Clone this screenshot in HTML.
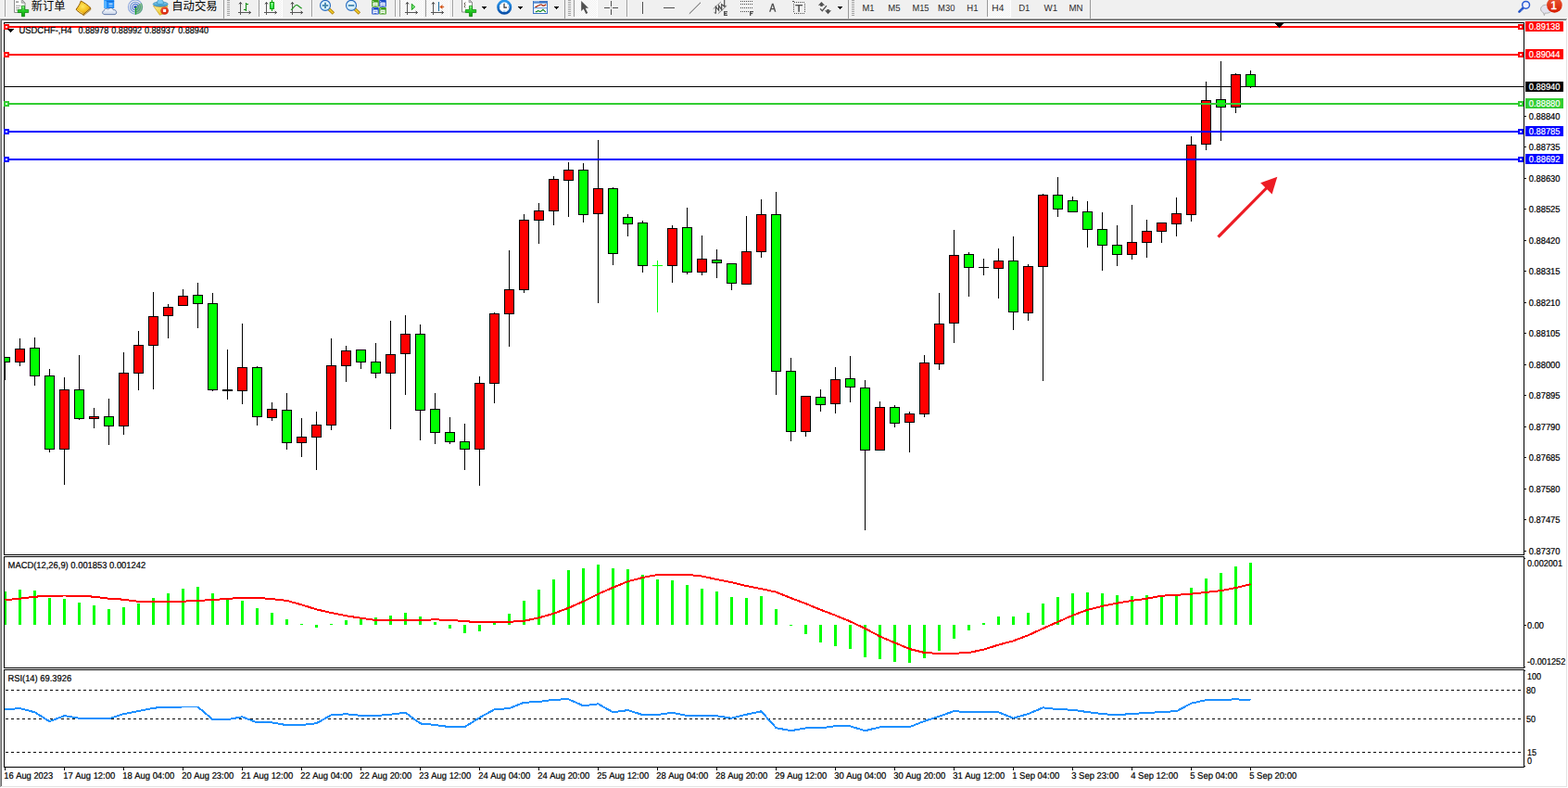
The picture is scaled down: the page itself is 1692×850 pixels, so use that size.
<!DOCTYPE html>
<html><head><meta charset="utf-8"><title>USDCHF H4</title>
<style>
html,body{margin:0;padding:0;}
body{width:1692px;height:850px;overflow:hidden;background:#f0f0f0;position:relative;font-family:"Liberation Sans",sans-serif;}
</style></head><body>
<svg width="1692" height="850" viewBox="0 0 1692 850" style="position:absolute;left:0;top:0"><g shape-rendering="crispEdges"><rect x="0" y="20" width="1692" height="830" fill="#ffffff"/><rect x="0" y="19" width="1692" height="1" fill="#f8f8f8"/><rect x="0" y="20" width="1692" height="1" fill="#a0a0a0"/><rect x="0" y="21" width="1691" height="1" fill="#696969"/><rect x="0" y="20" width="1" height="830" fill="#a0a0a0"/><rect x="1" y="21" width="1" height="828" fill="#696969"/><rect x="1690" y="21" width="1" height="828" fill="#e3e3e3"/><rect x="1691" y="20" width="1" height="830" fill="#ffffff"/><rect x="1" y="848" width="1690" height="1" fill="#e3e3e3"/><rect x="0" y="849" width="1692" height="1" fill="#ffffff"/><rect x="4" y="24" width="1641" height="1" fill="#000"/><rect x="4" y="598" width="1641" height="1" fill="#000"/><rect x="4" y="24" width="1" height="575" fill="#000"/><rect x="1644" y="24" width="1" height="575" fill="#000"/><rect x="4" y="600" width="1641" height="1" fill="#000"/><rect x="4" y="720" width="1641" height="1" fill="#000"/><rect x="4" y="600" width="1" height="121" fill="#000"/><rect x="1644" y="600" width="1" height="121" fill="#000"/><rect x="4" y="722" width="1641" height="1" fill="#000"/><rect x="4" y="827" width="1641" height="1" fill="#000"/><rect x="4" y="722" width="1" height="106" fill="#000"/><rect x="1644" y="722" width="1" height="106" fill="#000"/><rect x="5" y="93" width="1639" height="1" fill="#000"/><rect x="5" y="385" width="1" height="25" fill="#000"/><rect x="5" y="385" width="6" height="6" fill="#000"/><rect x="5" y="386" width="5" height="4" fill="#00ff00"/><rect x="21" y="365" width="1" height="30" fill="#000"/><rect x="16" y="376" width="11" height="15" fill="#000"/><rect x="17" y="377" width="9" height="13" fill="#ff0000"/><rect x="37" y="364" width="1" height="52" fill="#000"/><rect x="32" y="375" width="11" height="31" fill="#000"/><rect x="33" y="376" width="9" height="29" fill="#00ff00"/><rect x="53" y="398" width="1" height="90" fill="#000"/><rect x="48" y="405" width="11" height="80" fill="#000"/><rect x="49" y="406" width="9" height="78" fill="#00ff00"/><rect x="69" y="407" width="1" height="116" fill="#000"/><rect x="64" y="420" width="11" height="65" fill="#000"/><rect x="65" y="421" width="9" height="63" fill="#ff0000"/><rect x="85" y="383" width="1" height="70" fill="#000"/><rect x="80" y="420" width="11" height="32" fill="#000"/><rect x="81" y="421" width="9" height="30" fill="#00ff00"/><rect x="101" y="440" width="1" height="22" fill="#000"/><rect x="96" y="449" width="11" height="3" fill="#000"/><rect x="97" y="450" width="9" height="1" fill="#ff0000"/><rect x="117" y="430" width="1" height="50" fill="#000"/><rect x="112" y="449" width="11" height="11" fill="#000"/><rect x="113" y="450" width="9" height="9" fill="#00ff00"/><rect x="133" y="380" width="1" height="89" fill="#000"/><rect x="128" y="402" width="11" height="58" fill="#000"/><rect x="129" y="403" width="9" height="56" fill="#ff0000"/><rect x="149" y="357" width="1" height="64" fill="#000"/><rect x="144" y="372" width="11" height="31" fill="#000"/><rect x="145" y="373" width="9" height="29" fill="#ff0000"/><rect x="165" y="315" width="1" height="105" fill="#000"/><rect x="160" y="341" width="11" height="32" fill="#000"/><rect x="161" y="342" width="9" height="30" fill="#ff0000"/><rect x="181" y="328" width="1" height="37" fill="#000"/><rect x="176" y="331" width="11" height="10" fill="#000"/><rect x="177" y="332" width="9" height="8" fill="#ff0000"/><rect x="197" y="312" width="1" height="18" fill="#000"/><rect x="192" y="319" width="11" height="11" fill="#000"/><rect x="193" y="320" width="9" height="9" fill="#ff0000"/><rect x="213" y="305" width="1" height="49" fill="#000"/><rect x="208" y="318" width="11" height="10" fill="#000"/><rect x="209" y="319" width="9" height="8" fill="#00ff00"/><rect x="229" y="316" width="1" height="106" fill="#000"/><rect x="224" y="327" width="11" height="94" fill="#000"/><rect x="225" y="328" width="9" height="92" fill="#00ff00"/><rect x="245" y="377" width="1" height="54" fill="#000"/><rect x="240" y="420" width="11" height="2" fill="#000"/><rect x="261" y="349" width="1" height="87" fill="#000"/><rect x="256" y="396" width="11" height="26" fill="#000"/><rect x="257" y="397" width="9" height="24" fill="#ff0000"/><rect x="277" y="395" width="1" height="64" fill="#000"/><rect x="272" y="396" width="11" height="54" fill="#000"/><rect x="273" y="397" width="9" height="52" fill="#00ff00"/><rect x="293" y="434" width="1" height="20" fill="#000"/><rect x="288" y="441" width="11" height="10" fill="#000"/><rect x="289" y="442" width="9" height="8" fill="#ff0000"/><rect x="309" y="424" width="1" height="61" fill="#000"/><rect x="304" y="442" width="11" height="36" fill="#000"/><rect x="305" y="443" width="9" height="34" fill="#00ff00"/><rect x="325" y="451" width="1" height="42" fill="#000"/><rect x="320" y="471" width="11" height="7" fill="#000"/><rect x="321" y="472" width="9" height="5" fill="#ff0000"/><rect x="341" y="444" width="1" height="63" fill="#000"/><rect x="336" y="458" width="11" height="14" fill="#000"/><rect x="337" y="459" width="9" height="12" fill="#ff0000"/><rect x="357" y="365" width="1" height="99" fill="#000"/><rect x="352" y="394" width="11" height="65" fill="#000"/><rect x="353" y="395" width="9" height="63" fill="#ff0000"/><rect x="373" y="373" width="1" height="39" fill="#000"/><rect x="368" y="378" width="11" height="17" fill="#000"/><rect x="369" y="379" width="9" height="15" fill="#ff0000"/><rect x="389" y="377" width="1" height="21" fill="#000"/><rect x="384" y="377" width="11" height="14" fill="#000"/><rect x="385" y="378" width="9" height="12" fill="#00ff00"/><rect x="405" y="370" width="1" height="38" fill="#000"/><rect x="400" y="390" width="11" height="13" fill="#000"/><rect x="401" y="391" width="9" height="11" fill="#00ff00"/><rect x="421" y="346" width="1" height="117" fill="#000"/><rect x="416" y="382" width="11" height="21" fill="#000"/><rect x="417" y="383" width="9" height="19" fill="#ff0000"/><rect x="437" y="340" width="1" height="86" fill="#000"/><rect x="432" y="360" width="11" height="22" fill="#000"/><rect x="433" y="361" width="9" height="20" fill="#ff0000"/><rect x="453" y="350" width="1" height="125" fill="#000"/><rect x="448" y="360" width="11" height="83" fill="#000"/><rect x="449" y="361" width="9" height="81" fill="#00ff00"/><rect x="469" y="424" width="1" height="55" fill="#000"/><rect x="464" y="441" width="11" height="26" fill="#000"/><rect x="465" y="442" width="9" height="24" fill="#00ff00"/><rect x="485" y="450" width="1" height="29" fill="#000"/><rect x="480" y="466" width="11" height="11" fill="#000"/><rect x="481" y="467" width="9" height="9" fill="#00ff00"/><rect x="501" y="457" width="1" height="50" fill="#000"/><rect x="496" y="476" width="11" height="9" fill="#000"/><rect x="497" y="477" width="9" height="7" fill="#00ff00"/><rect x="517" y="406" width="1" height="118" fill="#000"/><rect x="512" y="413" width="11" height="72" fill="#000"/><rect x="513" y="414" width="9" height="70" fill="#ff0000"/><rect x="533" y="337" width="1" height="98" fill="#000"/><rect x="528" y="338" width="11" height="76" fill="#000"/><rect x="529" y="339" width="9" height="74" fill="#ff0000"/><rect x="549" y="270" width="1" height="104" fill="#000"/><rect x="544" y="312" width="11" height="27" fill="#000"/><rect x="545" y="313" width="9" height="25" fill="#ff0000"/><rect x="565" y="231" width="1" height="85" fill="#000"/><rect x="560" y="237" width="11" height="76" fill="#000"/><rect x="561" y="238" width="9" height="74" fill="#ff0000"/><rect x="581" y="219" width="1" height="44" fill="#000"/><rect x="576" y="227" width="11" height="11" fill="#000"/><rect x="577" y="228" width="9" height="9" fill="#ff0000"/><rect x="597" y="190" width="1" height="53" fill="#000"/><rect x="592" y="193" width="11" height="35" fill="#000"/><rect x="593" y="194" width="9" height="33" fill="#ff0000"/><rect x="613" y="175" width="1" height="59" fill="#000"/><rect x="608" y="183" width="11" height="12" fill="#000"/><rect x="609" y="184" width="9" height="10" fill="#ff0000"/><rect x="629" y="176" width="1" height="64" fill="#000"/><rect x="624" y="183" width="11" height="49" fill="#000"/><rect x="625" y="184" width="9" height="47" fill="#00ff00"/><rect x="645" y="151" width="1" height="176" fill="#000"/><rect x="640" y="203" width="11" height="28" fill="#000"/><rect x="641" y="204" width="9" height="26" fill="#ff0000"/><rect x="661" y="202" width="1" height="84" fill="#000"/><rect x="656" y="203" width="11" height="71" fill="#000"/><rect x="657" y="204" width="9" height="69" fill="#00ff00"/><rect x="677" y="231" width="1" height="24" fill="#000"/><rect x="672" y="234" width="11" height="8" fill="#000"/><rect x="673" y="235" width="9" height="6" fill="#00ff00"/><rect x="693" y="238" width="1" height="56" fill="#000"/><rect x="688" y="240" width="11" height="47" fill="#000"/><rect x="689" y="241" width="9" height="45" fill="#00ff00"/><rect x="709" y="281" width="1" height="56" fill="#00ff00"/><rect x="704" y="286" width="11" height="1" fill="#00ff00"/><rect x="725" y="243" width="1" height="62" fill="#000"/><rect x="720" y="246" width="11" height="41" fill="#000"/><rect x="721" y="247" width="9" height="39" fill="#ff0000"/><rect x="741" y="224" width="1" height="72" fill="#000"/><rect x="736" y="245" width="11" height="49" fill="#000"/><rect x="737" y="246" width="9" height="47" fill="#00ff00"/><rect x="757" y="254" width="1" height="43" fill="#000"/><rect x="752" y="279" width="11" height="15" fill="#000"/><rect x="753" y="280" width="9" height="13" fill="#ff0000"/><rect x="773" y="269" width="1" height="31" fill="#000"/><rect x="768" y="280" width="11" height="4" fill="#000"/><rect x="769" y="281" width="9" height="2" fill="#00ff00"/><rect x="789" y="284" width="1" height="29" fill="#000"/><rect x="784" y="284" width="11" height="22" fill="#000"/><rect x="785" y="285" width="9" height="20" fill="#00ff00"/><rect x="805" y="233" width="1" height="74" fill="#000"/><rect x="800" y="271" width="11" height="36" fill="#000"/><rect x="801" y="272" width="9" height="34" fill="#ff0000"/><rect x="821" y="215" width="1" height="63" fill="#000"/><rect x="816" y="231" width="11" height="41" fill="#000"/><rect x="817" y="232" width="9" height="39" fill="#ff0000"/><rect x="837" y="207" width="1" height="219" fill="#000"/><rect x="832" y="231" width="11" height="170" fill="#000"/><rect x="833" y="232" width="9" height="168" fill="#00ff00"/><rect x="853" y="386" width="1" height="90" fill="#000"/><rect x="848" y="400" width="11" height="66" fill="#000"/><rect x="849" y="401" width="9" height="64" fill="#00ff00"/><rect x="869" y="427" width="1" height="44" fill="#000"/><rect x="864" y="427" width="11" height="39" fill="#000"/><rect x="865" y="428" width="9" height="37" fill="#ff0000"/><rect x="885" y="420" width="1" height="24" fill="#000"/><rect x="880" y="428" width="11" height="9" fill="#000"/><rect x="881" y="429" width="9" height="7" fill="#00ff00"/><rect x="901" y="396" width="1" height="50" fill="#000"/><rect x="896" y="409" width="11" height="27" fill="#000"/><rect x="897" y="410" width="9" height="25" fill="#ff0000"/><rect x="917" y="384" width="1" height="50" fill="#000"/><rect x="912" y="408" width="11" height="10" fill="#000"/><rect x="913" y="409" width="9" height="8" fill="#00ff00"/><rect x="933" y="410" width="1" height="162" fill="#000"/><rect x="928" y="418" width="11" height="68" fill="#000"/><rect x="929" y="419" width="9" height="66" fill="#00ff00"/><rect x="949" y="433" width="1" height="53" fill="#000"/><rect x="944" y="439" width="11" height="47" fill="#000"/><rect x="945" y="440" width="9" height="45" fill="#ff0000"/><rect x="965" y="437" width="1" height="24" fill="#000"/><rect x="960" y="439" width="11" height="18" fill="#000"/><rect x="961" y="440" width="9" height="16" fill="#00ff00"/><rect x="981" y="444" width="1" height="44" fill="#000"/><rect x="976" y="446" width="11" height="10" fill="#000"/><rect x="977" y="447" width="9" height="8" fill="#ff0000"/><rect x="997" y="383" width="1" height="67" fill="#000"/><rect x="992" y="391" width="11" height="56" fill="#000"/><rect x="993" y="392" width="9" height="54" fill="#ff0000"/><rect x="1013" y="316" width="1" height="83" fill="#000"/><rect x="1008" y="349" width="11" height="44" fill="#000"/><rect x="1009" y="350" width="9" height="42" fill="#ff0000"/><rect x="1029" y="248" width="1" height="122" fill="#000"/><rect x="1024" y="275" width="11" height="74" fill="#000"/><rect x="1025" y="276" width="9" height="72" fill="#ff0000"/><rect x="1045" y="272" width="1" height="48" fill="#000"/><rect x="1040" y="274" width="11" height="15" fill="#000"/><rect x="1041" y="275" width="9" height="13" fill="#00ff00"/><rect x="1061" y="279" width="1" height="18" fill="#000"/><rect x="1056" y="288" width="11" height="1" fill="#000"/><rect x="1077" y="268" width="1" height="54" fill="#000"/><rect x="1072" y="281" width="11" height="9" fill="#000"/><rect x="1073" y="282" width="9" height="7" fill="#ff0000"/><rect x="1093" y="255" width="1" height="101" fill="#000"/><rect x="1088" y="281" width="11" height="56" fill="#000"/><rect x="1089" y="282" width="9" height="54" fill="#00ff00"/><rect x="1109" y="285" width="1" height="61" fill="#000"/><rect x="1104" y="287" width="11" height="51" fill="#000"/><rect x="1105" y="288" width="9" height="49" fill="#ff0000"/><rect x="1125" y="209" width="1" height="202" fill="#000"/><rect x="1120" y="210" width="11" height="78" fill="#000"/><rect x="1121" y="211" width="9" height="76" fill="#ff0000"/><rect x="1141" y="191" width="1" height="43" fill="#000"/><rect x="1136" y="210" width="11" height="16" fill="#000"/><rect x="1137" y="211" width="9" height="14" fill="#00ff00"/><rect x="1157" y="212" width="1" height="17" fill="#000"/><rect x="1152" y="216" width="11" height="13" fill="#000"/><rect x="1153" y="217" width="9" height="11" fill="#00ff00"/><rect x="1173" y="217" width="1" height="50" fill="#000"/><rect x="1168" y="228" width="11" height="20" fill="#000"/><rect x="1169" y="229" width="9" height="18" fill="#00ff00"/><rect x="1189" y="229" width="1" height="63" fill="#000"/><rect x="1184" y="247" width="11" height="18" fill="#000"/><rect x="1185" y="248" width="9" height="16" fill="#00ff00"/><rect x="1205" y="243" width="1" height="44" fill="#000"/><rect x="1200" y="264" width="11" height="11" fill="#000"/><rect x="1201" y="265" width="9" height="9" fill="#00ff00"/><rect x="1221" y="221" width="1" height="59" fill="#000"/><rect x="1216" y="261" width="11" height="14" fill="#000"/><rect x="1217" y="262" width="9" height="12" fill="#ff0000"/><rect x="1237" y="237" width="1" height="41" fill="#000"/><rect x="1232" y="249" width="11" height="13" fill="#000"/><rect x="1233" y="250" width="9" height="11" fill="#ff0000"/><rect x="1253" y="240" width="1" height="22" fill="#000"/><rect x="1248" y="240" width="11" height="10" fill="#000"/><rect x="1249" y="241" width="9" height="8" fill="#ff0000"/><rect x="1269" y="213" width="1" height="42" fill="#000"/><rect x="1264" y="230" width="11" height="12" fill="#000"/><rect x="1265" y="231" width="9" height="10" fill="#ff0000"/><rect x="1285" y="147" width="1" height="92" fill="#000"/><rect x="1280" y="156" width="11" height="76" fill="#000"/><rect x="1281" y="157" width="9" height="74" fill="#ff0000"/><rect x="1301" y="88" width="1" height="74" fill="#000"/><rect x="1296" y="108" width="11" height="48" fill="#000"/><rect x="1297" y="109" width="9" height="46" fill="#ff0000"/><rect x="1317" y="66" width="1" height="86" fill="#000"/><rect x="1312" y="107" width="11" height="9" fill="#000"/><rect x="1313" y="108" width="9" height="7" fill="#00ff00"/><rect x="1333" y="79" width="1" height="43" fill="#000"/><rect x="1328" y="80" width="11" height="36" fill="#000"/><rect x="1329" y="81" width="9" height="34" fill="#ff0000"/><rect x="1349" y="76" width="1" height="19" fill="#000"/><rect x="1344" y="80" width="11" height="14" fill="#000"/><rect x="1345" y="81" width="9" height="12" fill="#00ff00"/><rect x="5" y="28" width="1639" height="2" fill="#ff0000"/><rect x="4" y="26" width="6" height="6" fill="#ff0000"/><rect x="6" y="28" width="2" height="2" fill="#fff"/><rect x="1638" y="26" width="6" height="6" fill="#ff0000"/><rect x="1640" y="28" width="2" height="2" fill="#fff"/><rect x="1646" y="23" width="41" height="11" fill="#ff0000"/><rect x="5" y="58" width="1639" height="2" fill="#ff0000"/><rect x="4" y="56" width="6" height="6" fill="#ff0000"/><rect x="6" y="58" width="2" height="2" fill="#fff"/><rect x="1638" y="56" width="6" height="6" fill="#ff0000"/><rect x="1640" y="58" width="2" height="2" fill="#fff"/><rect x="1646" y="53" width="41" height="11" fill="#ff0000"/><rect x="5" y="111" width="1639" height="2" fill="#32cd32"/><rect x="4" y="109" width="6" height="6" fill="#32cd32"/><rect x="6" y="111" width="2" height="2" fill="#fff"/><rect x="1638" y="109" width="6" height="6" fill="#32cd32"/><rect x="1640" y="111" width="2" height="2" fill="#fff"/><rect x="1646" y="106" width="41" height="11" fill="#32cd32"/><rect x="5" y="141" width="1639" height="2" fill="#0000ff"/><rect x="4" y="139" width="6" height="6" fill="#0000ff"/><rect x="6" y="141" width="2" height="2" fill="#fff"/><rect x="1638" y="139" width="6" height="6" fill="#0000ff"/><rect x="1640" y="141" width="2" height="2" fill="#fff"/><rect x="1646" y="136" width="41" height="11" fill="#0000ff"/><rect x="5" y="171" width="1639" height="2" fill="#0000ff"/><rect x="4" y="169" width="6" height="6" fill="#0000ff"/><rect x="6" y="171" width="2" height="2" fill="#fff"/><rect x="1638" y="169" width="6" height="6" fill="#0000ff"/><rect x="1640" y="171" width="2" height="2" fill="#fff"/><rect x="1646" y="166" width="41" height="11" fill="#0000ff"/><rect x="1646" y="88" width="41" height="11" fill="#000"/><rect x="1645" y="594" width="2" height="1" fill="#000"/><rect x="1645" y="560" width="2" height="1" fill="#000"/><rect x="1645" y="527" width="2" height="1" fill="#000"/><rect x="1645" y="493" width="2" height="1" fill="#000"/><rect x="1645" y="460" width="2" height="1" fill="#000"/><rect x="1645" y="426" width="2" height="1" fill="#000"/><rect x="1645" y="393" width="2" height="1" fill="#000"/><rect x="1645" y="359" width="2" height="1" fill="#000"/><rect x="1645" y="326" width="2" height="1" fill="#000"/><rect x="1645" y="292" width="2" height="1" fill="#000"/><rect x="1645" y="259" width="2" height="1" fill="#000"/><rect x="1645" y="225" width="2" height="1" fill="#000"/><rect x="1645" y="192" width="2" height="1" fill="#000"/><rect x="1645" y="158" width="2" height="1" fill="#000"/><rect x="1645" y="125" width="2" height="1" fill="#000"/><rect x="5" y="638" width="2" height="36" fill="#00ff00"/><rect x="20" y="636" width="3" height="38" fill="#00ff00"/><rect x="36" y="637" width="3" height="37" fill="#00ff00"/><rect x="52" y="645" width="3" height="29" fill="#00ff00"/><rect x="68" y="646" width="3" height="28" fill="#00ff00"/><rect x="84" y="650" width="3" height="24" fill="#00ff00"/><rect x="100" y="653" width="3" height="21" fill="#00ff00"/><rect x="116" y="657" width="3" height="17" fill="#00ff00"/><rect x="132" y="655" width="3" height="19" fill="#00ff00"/><rect x="148" y="651" width="3" height="23" fill="#00ff00"/><rect x="164" y="645" width="3" height="29" fill="#00ff00"/><rect x="180" y="640" width="3" height="34" fill="#00ff00"/><rect x="196" y="635" width="3" height="39" fill="#00ff00"/><rect x="212" y="633" width="3" height="41" fill="#00ff00"/><rect x="228" y="640" width="3" height="34" fill="#00ff00"/><rect x="244" y="646" width="3" height="28" fill="#00ff00"/><rect x="260" y="648" width="3" height="26" fill="#00ff00"/><rect x="276" y="656" width="3" height="18" fill="#00ff00"/><rect x="292" y="661" width="3" height="13" fill="#00ff00"/><rect x="308" y="668" width="3" height="6" fill="#00ff00"/><rect x="324" y="673" width="3" height="1" fill="#00ff00"/><rect x="340" y="674" width="3" height="3" fill="#00ff00"/><rect x="356" y="673" width="3" height="1" fill="#00ff00"/><rect x="372" y="669" width="3" height="5" fill="#00ff00"/><rect x="388" y="667" width="3" height="7" fill="#00ff00"/><rect x="404" y="666" width="3" height="8" fill="#00ff00"/><rect x="420" y="664" width="3" height="10" fill="#00ff00"/><rect x="436" y="661" width="3" height="13" fill="#00ff00"/><rect x="452" y="665" width="3" height="9" fill="#00ff00"/><rect x="468" y="671" width="3" height="3" fill="#00ff00"/><rect x="484" y="674" width="3" height="4" fill="#00ff00"/><rect x="500" y="674" width="3" height="9" fill="#00ff00"/><rect x="516" y="674" width="3" height="7" fill="#00ff00"/><rect x="532" y="671" width="3" height="3" fill="#00ff00"/><rect x="548" y="662" width="3" height="12" fill="#00ff00"/><rect x="564" y="648" width="3" height="26" fill="#00ff00"/><rect x="580" y="636" width="3" height="38" fill="#00ff00"/><rect x="596" y="625" width="3" height="49" fill="#00ff00"/><rect x="612" y="615" width="3" height="59" fill="#00ff00"/><rect x="628" y="613" width="3" height="61" fill="#00ff00"/><rect x="644" y="609" width="3" height="65" fill="#00ff00"/><rect x="660" y="613" width="3" height="61" fill="#00ff00"/><rect x="676" y="614" width="3" height="60" fill="#00ff00"/><rect x="692" y="620" width="3" height="54" fill="#00ff00"/><rect x="708" y="625" width="3" height="49" fill="#00ff00"/><rect x="724" y="626" width="3" height="48" fill="#00ff00"/><rect x="740" y="631" width="3" height="43" fill="#00ff00"/><rect x="756" y="635" width="3" height="39" fill="#00ff00"/><rect x="772" y="638" width="3" height="36" fill="#00ff00"/><rect x="788" y="644" width="3" height="30" fill="#00ff00"/><rect x="804" y="645" width="3" height="29" fill="#00ff00"/><rect x="820" y="643" width="3" height="31" fill="#00ff00"/><rect x="836" y="657" width="3" height="17" fill="#00ff00"/><rect x="852" y="674" width="3" height="1" fill="#00ff00"/><rect x="868" y="674" width="3" height="10" fill="#00ff00"/><rect x="884" y="674" width="3" height="19" fill="#00ff00"/><rect x="900" y="674" width="3" height="23" fill="#00ff00"/><rect x="916" y="674" width="3" height="26" fill="#00ff00"/><rect x="932" y="674" width="3" height="35" fill="#00ff00"/><rect x="948" y="674" width="3" height="37" fill="#00ff00"/><rect x="964" y="674" width="3" height="40" fill="#00ff00"/><rect x="980" y="674" width="3" height="41" fill="#00ff00"/><rect x="996" y="674" width="3" height="36" fill="#00ff00"/><rect x="1012" y="674" width="3" height="28" fill="#00ff00"/><rect x="1028" y="674" width="3" height="15" fill="#00ff00"/><rect x="1044" y="674" width="3" height="6" fill="#00ff00"/><rect x="1060" y="672" width="3" height="2" fill="#00ff00"/><rect x="1076" y="665" width="3" height="9" fill="#00ff00"/><rect x="1092" y="665" width="3" height="9" fill="#00ff00"/><rect x="1108" y="661" width="3" height="13" fill="#00ff00"/><rect x="1124" y="651" width="3" height="23" fill="#00ff00"/><rect x="1140" y="644" width="3" height="30" fill="#00ff00"/><rect x="1156" y="640" width="3" height="34" fill="#00ff00"/><rect x="1172" y="639" width="3" height="35" fill="#00ff00"/><rect x="1188" y="640" width="3" height="34" fill="#00ff00"/><rect x="1204" y="642" width="3" height="32" fill="#00ff00"/><rect x="1220" y="643" width="3" height="31" fill="#00ff00"/><rect x="1236" y="642" width="3" height="32" fill="#00ff00"/><rect x="1252" y="642" width="3" height="32" fill="#00ff00"/><rect x="1268" y="641" width="3" height="33" fill="#00ff00"/><rect x="1284" y="634" width="3" height="40" fill="#00ff00"/><rect x="1300" y="624" width="3" height="50" fill="#00ff00"/><rect x="1316" y="618" width="3" height="56" fill="#00ff00"/><rect x="1332" y="611" width="3" height="63" fill="#00ff00"/><rect x="1348" y="607" width="3" height="67" fill="#00ff00"/><rect x="1645" y="602" width="1" height="1" fill="#000"/><rect x="1645" y="674" width="2" height="1" fill="#000"/><rect x="1645" y="719" width="1" height="1" fill="#000"/><rect x="1645" y="723" width="1" height="1" fill="#000"/><rect x="1645" y="826" width="1" height="1" fill="#000"/><rect x="5" y="828" width="1" height="3" fill="#000"/><rect x="69" y="828" width="1" height="3" fill="#000"/><rect x="133" y="828" width="1" height="3" fill="#000"/><rect x="197" y="828" width="1" height="3" fill="#000"/><rect x="261" y="828" width="1" height="3" fill="#000"/><rect x="325" y="828" width="1" height="3" fill="#000"/><rect x="389" y="828" width="1" height="3" fill="#000"/><rect x="453" y="828" width="1" height="3" fill="#000"/><rect x="517" y="828" width="1" height="3" fill="#000"/><rect x="581" y="828" width="1" height="3" fill="#000"/><rect x="645" y="828" width="1" height="3" fill="#000"/><rect x="709" y="828" width="1" height="3" fill="#000"/><rect x="773" y="828" width="1" height="3" fill="#000"/><rect x="837" y="828" width="1" height="3" fill="#000"/><rect x="901" y="828" width="1" height="3" fill="#000"/><rect x="965" y="828" width="1" height="3" fill="#000"/><rect x="1029" y="828" width="1" height="3" fill="#000"/><rect x="1093" y="828" width="1" height="3" fill="#000"/><rect x="1157" y="828" width="1" height="3" fill="#000"/><rect x="1221" y="828" width="1" height="3" fill="#000"/><rect x="1285" y="828" width="1" height="3" fill="#000"/><rect x="1349" y="828" width="1" height="3" fill="#000"/><path d="M6 744.5H1644" stroke="#000" stroke-width="1" stroke-dasharray="3 3" fill="none"/><path d="M6 775.5H1644" stroke="#000" stroke-width="1" stroke-dasharray="3 3" fill="none"/><path d="M6 811.5H1644" stroke="#000" stroke-width="1" stroke-dasharray="3 3" fill="none"/><rect x="1376" y="25" width="9" height="1" fill="#000"/><rect x="1377" y="26" width="7" height="1" fill="#000"/><rect x="1378" y="27" width="5" height="1" fill="#000"/><rect x="1379" y="28" width="3" height="1" fill="#000"/><rect x="1380" y="29" width="1" height="1" fill="#000"/><rect x="8" y="31" width="7" height="1" fill="#000"/><rect x="9" y="32" width="5" height="1" fill="#000"/><rect x="10" y="33" width="3" height="1" fill="#000"/><rect x="11" y="34" width="1" height="1" fill="#000"/></g><g shape-rendering="crispEdges"><polyline points="5.5,647.3 21.5,645.7 37.5,643.7 53.5,642.7 69.5,642.5 85.5,642.7 101.5,643.7 117.5,645.7 133.5,646.7 149.5,648.9 165.5,649.1 181.5,649.1 197.5,648.7 213.5,647.9 229.5,647.1 245.5,645.9 261.5,644.7 277.5,644.9 293.5,646.1 309.5,647.9 325.5,652.3 341.5,657.4 357.5,661.0 373.5,664.2 389.5,666.8 405.5,669.0 421.5,669.4 437.5,669.4 453.5,668.8 469.5,668.4 485.5,668.8 501.5,670.2 517.5,671.2 533.5,671.4 549.5,670.8 565.5,669.8 581.5,666.4 597.5,661.8 613.5,655.8 629.5,648.7 645.5,640.7 661.5,633.7 677.5,627.2 693.5,623.0 709.5,620.0 725.5,619.6 741.5,619.8 757.5,621.6 773.5,625.0 789.5,628.2 805.5,632.1 821.5,635.1 837.5,638.7 853.5,645.1 869.5,651.1 885.5,657.8 901.5,663.8 917.5,670.4 933.5,677.9 949.5,686.5 965.5,693.3 981.5,700.0 997.5,704.0 1013.5,705.0 1029.5,704.8 1045.5,704.0 1061.5,700.6 1077.5,695.6 1093.5,691.3 1109.5,685.3 1125.5,677.9 1141.5,670.8 1157.5,663.8 1173.5,657.8 1189.5,653.8 1205.5,650.7 1221.5,647.9 1237.5,645.7 1253.5,642.7 1269.5,641.8 1285.5,640.7 1301.5,638.9 1317.5,637.1 1333.5,634.1 1349.5,630.2" fill="none" stroke="#ff0000" stroke-width="2" stroke-linejoin="round"/><polyline points="5.5,765.3 21.5,764.1 37.5,768.3 53.5,778.2 69.5,772.1 85.5,774.7 101.5,775.1 117.5,775.3 133.5,770.1 149.5,767.1 165.5,763.7 181.5,762.7 197.5,762.5 213.5,762.5 229.5,776.1 245.5,776.1 261.5,773.3 277.5,779.4 293.5,779.4 309.5,782.2 325.5,782.0 341.5,780.2 357.5,771.3 373.5,770.3 389.5,771.9 405.5,772.1 421.5,770.7 437.5,768.7 453.5,780.4 469.5,782.0 485.5,784.2 501.5,784.2 517.5,774.1 533.5,765.3 549.5,764.1 565.5,757.7 581.5,757.1 597.5,754.7 613.5,754.3 629.5,761.3 645.5,759.3 661.5,768.3 677.5,766.1 693.5,771.1 709.5,771.1 725.5,768.7 741.5,772.1 757.5,772.1 773.5,772.3 789.5,774.7 805.5,770.7 821.5,767.3 837.5,785.2 853.5,788.2 869.5,785.4 885.5,785.4 901.5,783.2 917.5,783.4 933.5,788.2 949.5,784.4 965.5,784.4 981.5,784.2 997.5,777.8 1013.5,772.7 1029.5,767.1 1045.5,768.3 1061.5,768.3 1077.5,768.3 1093.5,774.7 1109.5,770.1 1125.5,763.3 1141.5,765.1 1157.5,765.7 1173.5,768.1 1189.5,770.1 1205.5,771.3 1221.5,769.9 1237.5,769.1 1253.5,768.0 1269.5,767.2 1285.5,758.7 1301.5,755.1 1317.5,755.1 1333.5,754.3 1349.5,755.3" fill="none" stroke="#1e90ff" stroke-width="2" stroke-linejoin="round"/></g><g shape-rendering="geometricPrecision"><path d="M1314.5 255.7L1367 202.5" stroke="#ed1c24" stroke-width="3.2" fill="none"/><path d="M1378.3 190.8L1360.2 197.2L1372.6 209.4Z" fill="#ed1c24"/></g><g font-family="Liberation Sans, sans-serif" font-size="10px" text-rendering="geometricPrecision" stroke-width="0.22" style="white-space:pre"><text x="1649.7" y="32" fill="#fff" stroke="#fff" textLength="33.8" lengthAdjust="spacingAndGlyphs">0.89138</text><text x="1649.7" y="62" fill="#fff" stroke="#fff" textLength="33.8" lengthAdjust="spacingAndGlyphs">0.89044</text><text x="1649.7" y="115" fill="#fff" stroke="#fff" textLength="33.8" lengthAdjust="spacingAndGlyphs">0.88880</text><text x="1649.7" y="145" fill="#fff" stroke="#fff" textLength="33.8" lengthAdjust="spacingAndGlyphs">0.88785</text><text x="1649.7" y="175" fill="#fff" stroke="#fff" textLength="33.8" lengthAdjust="spacingAndGlyphs">0.88692</text><text x="1649.7" y="97" fill="#fff" stroke="#fff" textLength="33.8" lengthAdjust="spacingAndGlyphs">0.88940</text><text x="1649.7" y="598" fill="#000" stroke="#000" textLength="33.8" lengthAdjust="spacingAndGlyphs">0.87370</text><text x="1649.7" y="564" fill="#000" stroke="#000" textLength="33.8" lengthAdjust="spacingAndGlyphs">0.87475</text><text x="1649.7" y="531" fill="#000" stroke="#000" textLength="33.8" lengthAdjust="spacingAndGlyphs">0.87580</text><text x="1649.7" y="497" fill="#000" stroke="#000" textLength="33.8" lengthAdjust="spacingAndGlyphs">0.87685</text><text x="1649.7" y="464" fill="#000" stroke="#000" textLength="33.8" lengthAdjust="spacingAndGlyphs">0.87790</text><text x="1649.7" y="430" fill="#000" stroke="#000" textLength="33.8" lengthAdjust="spacingAndGlyphs">0.87895</text><text x="1649.7" y="397" fill="#000" stroke="#000" textLength="33.8" lengthAdjust="spacingAndGlyphs">0.88000</text><text x="1649.7" y="363" fill="#000" stroke="#000" textLength="33.8" lengthAdjust="spacingAndGlyphs">0.88105</text><text x="1649.7" y="330" fill="#000" stroke="#000" textLength="33.8" lengthAdjust="spacingAndGlyphs">0.88210</text><text x="1649.7" y="296" fill="#000" stroke="#000" textLength="33.8" lengthAdjust="spacingAndGlyphs">0.88315</text><text x="1649.7" y="263" fill="#000" stroke="#000" textLength="33.8" lengthAdjust="spacingAndGlyphs">0.88420</text><text x="1649.7" y="229" fill="#000" stroke="#000" textLength="33.8" lengthAdjust="spacingAndGlyphs">0.88525</text><text x="1649.7" y="196" fill="#000" stroke="#000" textLength="33.8" lengthAdjust="spacingAndGlyphs">0.88630</text><text x="1649.7" y="162" fill="#000" stroke="#000" textLength="33.8" lengthAdjust="spacingAndGlyphs">0.88735</text><text x="1649.7" y="129" fill="#000" stroke="#000" textLength="33.8" lengthAdjust="spacingAndGlyphs">0.88840</text><text x="1648" y="611" fill="#000" stroke="#000" textLength="38" lengthAdjust="spacingAndGlyphs">0.002001</text><text x="1648" y="678" fill="#000" stroke="#000" textLength="18" lengthAdjust="spacingAndGlyphs">0.00</text><text x="1648" y="717" fill="#000" stroke="#000" textLength="41.3" lengthAdjust="spacingAndGlyphs">-0.001252</text><text x="1648" y="733" fill="#000" stroke="#000" textLength="15" lengthAdjust="spacingAndGlyphs">100</text><text x="1647" y="748" fill="#000" stroke="#000" textLength="10" lengthAdjust="spacingAndGlyphs">80</text><text x="1647" y="779" fill="#000" stroke="#000" textLength="10" lengthAdjust="spacingAndGlyphs">50</text><text x="1648" y="815" fill="#000" stroke="#000" textLength="10" lengthAdjust="spacingAndGlyphs">15</text><text x="1648" y="824" fill="#000" stroke="#000" textLength="5" lengthAdjust="spacingAndGlyphs">0</text><text x="4.2" y="840" fill="#000" stroke="#000" textLength="53.0" lengthAdjust="spacingAndGlyphs">16&#160;Aug&#160;2023</text><text x="68.2" y="840" fill="#000" stroke="#000" textLength="56.0" lengthAdjust="spacingAndGlyphs">17&#160;Aug&#160;12:00</text><text x="132.2" y="840" fill="#000" stroke="#000" textLength="56.0" lengthAdjust="spacingAndGlyphs">18&#160;Aug&#160;04:00</text><text x="196.2" y="840" fill="#000" stroke="#000" textLength="56.0" lengthAdjust="spacingAndGlyphs">20&#160;Aug&#160;23:00</text><text x="260.2" y="840" fill="#000" stroke="#000" textLength="56.0" lengthAdjust="spacingAndGlyphs">21&#160;Aug&#160;12:00</text><text x="324.2" y="840" fill="#000" stroke="#000" textLength="56.0" lengthAdjust="spacingAndGlyphs">22&#160;Aug&#160;04:00</text><text x="388.2" y="840" fill="#000" stroke="#000" textLength="56.0" lengthAdjust="spacingAndGlyphs">22&#160;Aug&#160;20:00</text><text x="452.2" y="840" fill="#000" stroke="#000" textLength="56.0" lengthAdjust="spacingAndGlyphs">23&#160;Aug&#160;12:00</text><text x="516.2" y="840" fill="#000" stroke="#000" textLength="56.0" lengthAdjust="spacingAndGlyphs">24&#160;Aug&#160;04:00</text><text x="580.2" y="840" fill="#000" stroke="#000" textLength="56.0" lengthAdjust="spacingAndGlyphs">24&#160;Aug&#160;20:00</text><text x="644.2" y="840" fill="#000" stroke="#000" textLength="56.0" lengthAdjust="spacingAndGlyphs">25&#160;Aug&#160;12:00</text><text x="708.2" y="840" fill="#000" stroke="#000" textLength="56.0" lengthAdjust="spacingAndGlyphs">28&#160;Aug&#160;04:00</text><text x="772.2" y="840" fill="#000" stroke="#000" textLength="56.0" lengthAdjust="spacingAndGlyphs">28&#160;Aug&#160;20:00</text><text x="836.2" y="840" fill="#000" stroke="#000" textLength="56.0" lengthAdjust="spacingAndGlyphs">29&#160;Aug&#160;12:00</text><text x="900.2" y="840" fill="#000" stroke="#000" textLength="56.0" lengthAdjust="spacingAndGlyphs">30&#160;Aug&#160;04:00</text><text x="964.2" y="840" fill="#000" stroke="#000" textLength="56.0" lengthAdjust="spacingAndGlyphs">30&#160;Aug&#160;20:00</text><text x="1028.2" y="840" fill="#000" stroke="#000" textLength="56.0" lengthAdjust="spacingAndGlyphs">31&#160;Aug&#160;12:00</text><text x="1092.2" y="840" fill="#000" stroke="#000" textLength="51.0" lengthAdjust="spacingAndGlyphs">1&#160;Sep&#160;04:00</text><text x="1156.2" y="840" fill="#000" stroke="#000" textLength="51.0" lengthAdjust="spacingAndGlyphs">3&#160;Sep&#160;23:00</text><text x="1220.2" y="840" fill="#000" stroke="#000" textLength="51.0" lengthAdjust="spacingAndGlyphs">4&#160;Sep&#160;12:00</text><text x="1284.2" y="840" fill="#000" stroke="#000" textLength="51.0" lengthAdjust="spacingAndGlyphs">5&#160;Sep&#160;04:00</text><text x="1348.2" y="840" fill="#000" stroke="#000" textLength="51.0" lengthAdjust="spacingAndGlyphs">5&#160;Sep&#160;20:00</text><text x="20.5" y="36" fill="#000" stroke="#000" textLength="57" lengthAdjust="spacingAndGlyphs">USDCHF-,H4</text><text x="84.4" y="36" fill="#000" stroke="#000" textLength="32.8" lengthAdjust="spacingAndGlyphs">0.88978</text><text x="120.3" y="36" fill="#000" stroke="#000" textLength="32.8" lengthAdjust="spacingAndGlyphs">0.88992</text><text x="156" y="36" fill="#000" stroke="#000" textLength="32.8" lengthAdjust="spacingAndGlyphs">0.88937</text><text x="192.2" y="36" fill="#000" stroke="#000" textLength="32.8" lengthAdjust="spacingAndGlyphs">0.88940</text><text x="8.6" y="613" fill="#000" stroke="#000" textLength="148.6" lengthAdjust="spacingAndGlyphs">MACD(12,26,9)&#160;0.001853&#160;0.001242</text><text x="8.4" y="735" fill="#000" stroke="#000" textLength="68.8" lengthAdjust="spacingAndGlyphs">RSI(14)&#160;69.3926</text></g></svg>
<svg width="1692" height="20" viewBox="0 0 1692 20" style="position:absolute;left:0;top:0;overflow:hidden"><defs><pattern id="chk" width="2" height="2" patternUnits="userSpaceOnUse"><rect width="2" height="2" fill="#f0f0f0"/><rect width="1" height="1" fill="#fff"/><rect x="1" y="1" width="1" height="1" fill="#fff"/></pattern><linearGradient id="gplus" x1="0" y1="0" x2="0" y2="1"><stop offset="0" stop-color="#7df07d"/><stop offset=".45" stop-color="#28d028"/><stop offset="1" stop-color="#0a9a0a"/></linearGradient><linearGradient id="gold" x1="0" y1="0" x2="1" y2="1"><stop offset="0" stop-color="#f8d848"/><stop offset=".5" stop-color="#f0b810"/><stop offset="1" stop-color="#c07808"/></linearGradient><linearGradient id="cloud" x1="0" y1="0" x2="0" y2="1"><stop offset="0" stop-color="#ffffff"/><stop offset="1" stop-color="#c8d4e8"/></linearGradient><linearGradient id="yel" x1="0" y1="0" x2="1" y2="1"><stop offset="0" stop-color="#fff0a0"/><stop offset=".6" stop-color="#f0d040"/><stop offset="1" stop-color="#e0a818"/></linearGradient><radialGradient id="redb" cx=".4" cy=".3" r=".8"><stop offset="0" stop-color="#f06040"/><stop offset="1" stop-color="#d01800"/></radialGradient><linearGradient id="badge" x1="0" y1="0" x2="0" y2="1"><stop offset="0" stop-color="#e85a38"/><stop offset="1" stop-color="#d81c00"/></linearGradient><linearGradient id="gcand" x1="0" y1="0" x2="0" y2="1"><stop offset="0" stop-color="#98f898"/><stop offset="1" stop-color="#18e038"/></linearGradient><radialGradient id="lens" cx=".5" cy=".4" r=".6"><stop offset="0" stop-color="#f4fcff"/><stop offset="1" stop-color="#c4e8f8"/></radialGradient><linearGradient id="clk" x1="0" y1="0" x2="0" y2="1"><stop offset="0" stop-color="#2a9af0"/><stop offset="1" stop-color="#0a50a8"/></linearGradient><linearGradient id="hatg" x1="0" y1="0" x2="0" y2="1"><stop offset="0" stop-color="#8ad0f0"/><stop offset="1" stop-color="#3898c8"/></linearGradient><radialGradient id="gold2" cx=".45" cy=".4" r=".65"><stop offset="0" stop-color="#ffe860"/><stop offset=".55" stop-color="#f4c020"/><stop offset="1" stop-color="#c88408"/></radialGradient></defs><rect x="0" y="0" width="1692" height="19" fill="#f0f0f0" shape-rendering="crispEdges"/><rect x="5" y="0" width="1" height="18" fill="#a0a0a0" shape-rendering="crispEdges"/><rect x="6" y="0" width="1" height="18" fill="#f8f8f8" shape-rendering="crispEdges"/><rect x="336" y="0" width="1" height="18" fill="#a0a0a0" shape-rendering="crispEdges"/><rect x="337" y="0" width="1" height="18" fill="#f8f8f8" shape-rendering="crispEdges"/><rect x="426" y="0" width="1" height="18" fill="#a0a0a0" shape-rendering="crispEdges"/><rect x="427" y="0" width="1" height="18" fill="#f8f8f8" shape-rendering="crispEdges"/><rect x="488" y="0" width="1" height="18" fill="#a0a0a0" shape-rendering="crispEdges"/><rect x="489" y="0" width="1" height="18" fill="#f8f8f8" shape-rendering="crispEdges"/><rect x="676" y="0" width="1" height="18" fill="#a0a0a0" shape-rendering="crispEdges"/><rect x="677" y="0" width="1" height="18" fill="#f8f8f8" shape-rendering="crispEdges"/><rect x="241" y="0" width="1" height="20" fill="#9a9a9a" shape-rendering="crispEdges"/><rect x="609" y="0" width="1" height="20" fill="#9a9a9a" shape-rendering="crispEdges"/><rect x="915" y="0" width="1" height="20" fill="#9a9a9a" shape-rendering="crispEdges"/><rect x="1176" y="0" width="1" height="20" fill="#9a9a9a" shape-rendering="crispEdges"/><rect x="245" y="0" width="3" height="1" fill="#a4a4a4" shape-rendering="crispEdges"/><rect x="245" y="2" width="3" height="1" fill="#a4a4a4" shape-rendering="crispEdges"/><rect x="245" y="4" width="3" height="1" fill="#a4a4a4" shape-rendering="crispEdges"/><rect x="245" y="6" width="3" height="1" fill="#a4a4a4" shape-rendering="crispEdges"/><rect x="245" y="8" width="3" height="1" fill="#a4a4a4" shape-rendering="crispEdges"/><rect x="245" y="10" width="3" height="1" fill="#a4a4a4" shape-rendering="crispEdges"/><rect x="245" y="12" width="3" height="1" fill="#a4a4a4" shape-rendering="crispEdges"/><rect x="245" y="14" width="3" height="1" fill="#a4a4a4" shape-rendering="crispEdges"/><rect x="245" y="16" width="3" height="1" fill="#a4a4a4" shape-rendering="crispEdges"/><rect x="613" y="0" width="3" height="1" fill="#a4a4a4" shape-rendering="crispEdges"/><rect x="613" y="2" width="3" height="1" fill="#a4a4a4" shape-rendering="crispEdges"/><rect x="613" y="4" width="3" height="1" fill="#a4a4a4" shape-rendering="crispEdges"/><rect x="613" y="6" width="3" height="1" fill="#a4a4a4" shape-rendering="crispEdges"/><rect x="613" y="8" width="3" height="1" fill="#a4a4a4" shape-rendering="crispEdges"/><rect x="613" y="10" width="3" height="1" fill="#a4a4a4" shape-rendering="crispEdges"/><rect x="613" y="12" width="3" height="1" fill="#a4a4a4" shape-rendering="crispEdges"/><rect x="613" y="14" width="3" height="1" fill="#a4a4a4" shape-rendering="crispEdges"/><rect x="613" y="16" width="3" height="1" fill="#a4a4a4" shape-rendering="crispEdges"/><rect x="919" y="0" width="3" height="1" fill="#a4a4a4" shape-rendering="crispEdges"/><rect x="919" y="2" width="3" height="1" fill="#a4a4a4" shape-rendering="crispEdges"/><rect x="919" y="4" width="3" height="1" fill="#a4a4a4" shape-rendering="crispEdges"/><rect x="919" y="6" width="3" height="1" fill="#a4a4a4" shape-rendering="crispEdges"/><rect x="919" y="8" width="3" height="1" fill="#a4a4a4" shape-rendering="crispEdges"/><rect x="919" y="10" width="3" height="1" fill="#a4a4a4" shape-rendering="crispEdges"/><rect x="919" y="12" width="3" height="1" fill="#a4a4a4" shape-rendering="crispEdges"/><rect x="919" y="14" width="3" height="1" fill="#a4a4a4" shape-rendering="crispEdges"/><rect x="919" y="16" width="3" height="1" fill="#a4a4a4" shape-rendering="crispEdges"/><rect x="280" y="0" width="24" height="18" fill="url(#chk)" shape-rendering="crispEdges"/><rect x="279" y="0" width="1" height="18" fill="#9a9a9a" shape-rendering="crispEdges"/><rect x="279" y="18" width="26" height="1" fill="#ffffff" shape-rendering="crispEdges"/><rect x="304" y="0" width="1" height="19" fill="#ffffff" shape-rendering="crispEdges"/><rect x="432" y="0" width="24" height="18" fill="url(#chk)" shape-rendering="crispEdges"/><rect x="431" y="0" width="1" height="18" fill="#9a9a9a" shape-rendering="crispEdges"/><rect x="431" y="18" width="26" height="1" fill="#ffffff" shape-rendering="crispEdges"/><rect x="456" y="0" width="1" height="19" fill="#ffffff" shape-rendering="crispEdges"/><rect x="460" y="0" width="24" height="18" fill="url(#chk)" shape-rendering="crispEdges"/><rect x="459" y="0" width="1" height="18" fill="#9a9a9a" shape-rendering="crispEdges"/><rect x="459" y="18" width="26" height="1" fill="#ffffff" shape-rendering="crispEdges"/><rect x="484" y="0" width="1" height="19" fill="#ffffff" shape-rendering="crispEdges"/><rect x="620" y="0" width="24" height="18" fill="url(#chk)" shape-rendering="crispEdges"/><rect x="619" y="0" width="1" height="18" fill="#9a9a9a" shape-rendering="crispEdges"/><rect x="619" y="18" width="26" height="1" fill="#ffffff" shape-rendering="crispEdges"/><rect x="644" y="0" width="1" height="19" fill="#ffffff" shape-rendering="crispEdges"/><rect x="1066" y="0" width="24" height="18" fill="url(#chk)" shape-rendering="crispEdges"/><rect x="1065" y="0" width="1" height="18" fill="#9a9a9a" shape-rendering="crispEdges"/><rect x="1065" y="18" width="26" height="1" fill="#ffffff" shape-rendering="crispEdges"/><rect x="1090" y="0" width="1" height="19" fill="#ffffff" shape-rendering="crispEdges"/><path d="M15.5 -1H23.2L27 3.2V13.5H15.5Z" fill="#fff" stroke="#8c8c8c" stroke-width="1"/><path d="M23.2 -1V3.2H27Z" fill="#c8c8c8" stroke="#8c8c8c" stroke-width=".7"/><rect x="17" y="1.4" width="3.2" height="1.4" fill="#8a8a8a" /><path d="M17 6.2H22.5M17 8.6H21M17 10.8H19.5" stroke="#9a9a9a" stroke-width="1"/><path d="M23.45 6.3H26.55V10.45H30.7V13.55H26.55V17.7H23.45V13.55H19.3V10.45H23.45Z" fill="url(#gplus)" stroke="#0c8a0c" stroke-width=".8" stroke-linejoin="round"/><path d="M24.349999999999998 7.3H25.650000000000002" stroke="#c8ffc8" stroke-width=".8" opacity=".8"/><text x="33.7" y="11.2" font-family='"Liberation Sans","Noto Sans CJK SC",sans-serif' font-size="12.2px" fill="#000" textLength="36.7" lengthAdjust="spacingAndGlyphs">新订单</text><text x="185.2" y="11.1" font-family='"Liberation Sans","Noto Sans CJK SC",sans-serif' font-size="12.2px" fill="#000" textLength="49.4" lengthAdjust="spacingAndGlyphs">自动交易</text><path d="M98 8.8L97.7 10.8L90 17L89.8 15.6Z" fill="#e0d098" stroke="#946008" stroke-width=".6"/><path d="M87.3 1C90.4 2.6 95 5.6 98 8.7L89.8 15.8C87 14.6 84 12.4 82 10.2C84.4 7.4 86.4 4 87.3 1Z" fill="url(#gold2)" stroke="#946008" stroke-width="1" stroke-linejoin="round"/><path d="M83.4 10.4C85.4 12.2 87.6 13.8 89.6 14.6" stroke="#fff4b0" stroke-width=".7" opacity=".8" fill="none"/><path d="M112 0H123.2V9H112Z" fill="#1e8cf8"/><path d="M112 0L115 1.5V9H112Z" fill="#58b4ff"/><path d="M115 1.5H123.2" stroke="#0a60c8" stroke-width=".6"/><rect x="117.5" y="3.6" width="4" height="1.3" fill="#d8ecff" /><rect x="117.5" y="6" width="4" height="1" fill="#8cc8ff" /><path d="M113 15.6C110.4 15.6 109.6 12.4 112.2 11.6C112.2 9.4 115.4 8.6 116.6 10.2C118 8 121.6 8.2 122.2 10.6C125.6 10 127.2 14.6 124 15.6Z" fill="url(#cloud)" stroke="#5872a4" stroke-width=".9"/><circle cx="146" cy="7.6" r="7.6" fill="none" stroke="#3a6cd0" stroke-width="1.1" opacity="0.55"/><circle cx="146" cy="7.6" r="5.4" fill="none" stroke="#3a6cd0" stroke-width="1.1" opacity="0.75"/><circle cx="146" cy="7.6" r="3.2" fill="none" stroke="#3a6cd0" stroke-width="1.1" opacity="0.9"/><path d="M146 7.6L146 15.6A8 8 0 0 0 152.6 3.0Z" fill="#3aa040" opacity=".55"/><circle cx="146" cy="7.6" r="1.6" fill="#2848c0"/><path d="M146.4 8.1V15.6" stroke="#18a028" stroke-width="1.3"/><path d="M165.4 6.2C169 8 177 8 181 6L176.4 14.8L172.4 16.2Z" fill="url(#yel)" stroke="#c8a020" stroke-width=".7" stroke-linejoin="round"/><ellipse cx="173.2" cy="4.4" rx="8" ry="2.5" fill="url(#hatg)" stroke="#2a84b4" stroke-width=".7"/><path d="M169.4 3.8C169.6 0.6 171.4 -1 172.8 -1C174.4 -1 176.2 0.6 176.6 3.8C174.6 4.8 171.4 4.8 169.4 3.8Z" fill="#7ccaf0" stroke="#2a84b4" stroke-width=".6"/><circle cx="177.6" cy="11.5" r="4.3" fill="url(#redb)"/><rect x="176.1" y="10" width="3" height="3" fill="#fff" /><rect x="259" y="2" width="1" height="14" fill="#585858" shape-rendering="crispEdges"/><rect x="257" y="13" width="14" height="1" fill="#585858" shape-rendering="crispEdges"/><rect x="258" y="3" width="3" height="1" fill="#585858" shape-rendering="crispEdges"/><rect x="269" y="12" width="1" height="3" fill="#585858" shape-rendering="crispEdges"/><rect x="257" y="4" width="5" height="1" fill="#585858" shape-rendering="crispEdges" opacity=".25"/><rect x="268" y="11" width="1" height="5" fill="#585858" shape-rendering="crispEdges" opacity=".25"/><rect x="265" y="3" width="1" height="9" fill="#0a8a0a" shape-rendering="crispEdges"/><rect x="266" y="4" width="2" height="1" fill="#0a8a0a" shape-rendering="crispEdges"/><rect x="263" y="10" width="2" height="1" fill="#0a8a0a" shape-rendering="crispEdges"/><rect x="287" y="2" width="1" height="14" fill="#585858" shape-rendering="crispEdges"/><rect x="285" y="13" width="14" height="1" fill="#585858" shape-rendering="crispEdges"/><rect x="286" y="3" width="3" height="1" fill="#585858" shape-rendering="crispEdges"/><rect x="297" y="12" width="1" height="3" fill="#585858" shape-rendering="crispEdges"/><rect x="285" y="4" width="5" height="1" fill="#585858" shape-rendering="crispEdges" opacity=".25"/><rect x="296" y="11" width="1" height="5" fill="#585858" shape-rendering="crispEdges" opacity=".25"/><rect x="293" y="0" width="1" height="12" fill="#00a000" shape-rendering="crispEdges"/><rect x="291.5" y="2.5" width="4" height="7" fill="url(#gcand)" stroke="#00a000" stroke-width="1"/><rect x="315" y="2" width="1" height="14" fill="#585858" shape-rendering="crispEdges"/><rect x="313" y="13" width="14" height="1" fill="#585858" shape-rendering="crispEdges"/><rect x="314" y="3" width="3" height="1" fill="#585858" shape-rendering="crispEdges"/><rect x="325" y="12" width="1" height="3" fill="#585858" shape-rendering="crispEdges"/><rect x="313" y="4" width="5" height="1" fill="#585858" shape-rendering="crispEdges" opacity=".25"/><rect x="324" y="11" width="1" height="5" fill="#585858" shape-rendering="crispEdges" opacity=".25"/><path d="M314 10.8C316.5 9.5 318 5.2 320.2 5.4C322 5.6 323.6 8.6 325.8 9" fill="none" stroke="#2a9a2a" stroke-width="1.2"/><path d="M354.4 9.2L359.9 14.5" stroke="#a87808" stroke-width="3.3"/><path d="M354.6 9.4L359.5 14.1" stroke="#f0cc28" stroke-width="1.9"/><circle cx="351" cy="5.9" r="5.5" fill="url(#lens)" stroke="#2a6cc0" stroke-width="1.1"/><path d="M347.8 5.9H354.2" stroke="#4888b0" stroke-width="1.9"/><path d="M351 2.7V9.1" stroke="#4888b0" stroke-width="1.9"/><path d="M382.4 9.2L387.9 14.5" stroke="#a87808" stroke-width="3.3"/><path d="M382.6 9.4L387.5 14.1" stroke="#f0cc28" stroke-width="1.9"/><circle cx="379" cy="5.9" r="5.5" fill="url(#lens)" stroke="#2a6cc0" stroke-width="1.1"/><path d="M375.8 5.9H382.2" stroke="#4888b0" stroke-width="1.9"/><rect x="401.2" y="0" width="7.6" height="7.6" fill="#3c9c18" rx=".8"/><rect x="402.4" y="2.6" width="5.2" height="4.2" fill="#fff" /><rect x="403.4" y="3.8" width="3.2" height="1.2" fill="#a8d890" /><rect x="402.2" y="1" width="1" height="1" fill="#ffffff" opacity=".8"/><rect x="403.4" y="6" width="3.2" height="0.8" fill="#3c9c18" /><rect x="409.2" y="0" width="7.6" height="7.6" fill="#1c4cc8" rx=".8"/><rect x="410.4" y="2.6" width="5.2" height="4.2" fill="#fff" /><rect x="411.4" y="3.8" width="3.2" height="1.2" fill="#90a8f0" /><rect x="410.2" y="1" width="1" height="1" fill="#ffffff" opacity=".8"/><rect x="411.4" y="6" width="3.2" height="0.8" fill="#1c4cc8" /><rect x="401.2" y="8" width="7.6" height="7.6" fill="#1c4cc8" rx=".8"/><rect x="402.4" y="10.6" width="5.2" height="4.2" fill="#fff" /><rect x="403.4" y="11.8" width="3.2" height="1.2" fill="#90a8f0" /><rect x="402.2" y="9" width="1" height="1" fill="#ffffff" opacity=".8"/><rect x="403.4" y="14" width="3.2" height="0.8" fill="#1c4cc8" /><rect x="409.2" y="8" width="7.6" height="7.6" fill="#3c9c18" rx=".8"/><rect x="410.4" y="10.6" width="5.2" height="4.2" fill="#fff" /><rect x="411.4" y="11.8" width="3.2" height="1.2" fill="#a8d890" /><rect x="410.2" y="9" width="1" height="1" fill="#ffffff" opacity=".8"/><rect x="411.4" y="14" width="3.2" height="0.8" fill="#3c9c18" /><rect x="439" y="2" width="1" height="14" fill="#585858" shape-rendering="crispEdges"/><rect x="437" y="13" width="14" height="1" fill="#585858" shape-rendering="crispEdges"/><rect x="438" y="3" width="3" height="1" fill="#585858" shape-rendering="crispEdges"/><rect x="449" y="12" width="1" height="3" fill="#585858" shape-rendering="crispEdges"/><rect x="437" y="4" width="5" height="1" fill="#585858" shape-rendering="crispEdges" opacity=".25"/><rect x="448" y="11" width="1" height="5" fill="#585858" shape-rendering="crispEdges" opacity=".25"/><path d="M444.3 4.2V10.6L447.8 7.4Z" fill="#78e878" stroke="#18a018" stroke-width="1" stroke-linejoin="round"/><rect x="467" y="2" width="1" height="14" fill="#585858" shape-rendering="crispEdges"/><rect x="465" y="13" width="14" height="1" fill="#585858" shape-rendering="crispEdges"/><rect x="466" y="3" width="3" height="1" fill="#585858" shape-rendering="crispEdges"/><rect x="477" y="12" width="1" height="3" fill="#585858" shape-rendering="crispEdges"/><rect x="465" y="4" width="5" height="1" fill="#585858" shape-rendering="crispEdges" opacity=".25"/><rect x="476" y="11" width="1" height="5" fill="#585858" shape-rendering="crispEdges" opacity=".25"/><rect x="473" y="2" width="1" height="10" fill="#1a6aa0" shape-rendering="crispEdges"/><path d="M474.6 7.4L477.4 5.4L476.8 7H479V7.8H476.8L477.4 9.4Z" fill="#d04808" stroke="#d04808" stroke-width=".4"/><path d="M498.5 -1H506L509.5 2.6V13H498.5Z" fill="#fff" stroke="#8c8c8c" stroke-width="1"/><path d="M506 -1V2.6H509.5Z" fill="#c8c8c8" stroke="#8c8c8c" stroke-width=".7"/><path d="M502.4 2.5C501 3 501 5 502 5.6C501 6.2 501 8 502.4 8.6" stroke="#5a5040" stroke-width="1" fill="none"/><path d="M506.45 6.3H509.55V10.45H513.7V13.55H509.55V17.7H506.45V13.55H502.3V10.45H506.45Z" fill="url(#gplus)" stroke="#0c8a0c" stroke-width=".8" stroke-linejoin="round"/><path d="M507.34999999999997 7.3H508.65000000000003" stroke="#c8ffc8" stroke-width=".8" opacity=".8"/><rect x="520" y="7" width="5" height="1" fill="#000" shape-rendering="crispEdges"/><rect x="521" y="8" width="3" height="1" fill="#000" shape-rendering="crispEdges"/><rect x="522" y="9" width="1" height="1" fill="#000" shape-rendering="crispEdges"/><rect x="559" y="7" width="5" height="1" fill="#000" shape-rendering="crispEdges"/><rect x="560" y="8" width="3" height="1" fill="#000" shape-rendering="crispEdges"/><rect x="561" y="9" width="1" height="1" fill="#000" shape-rendering="crispEdges"/><rect x="598" y="7" width="5" height="1" fill="#000" shape-rendering="crispEdges"/><rect x="599" y="8" width="3" height="1" fill="#000" shape-rendering="crispEdges"/><rect x="600" y="9" width="1" height="1" fill="#000" shape-rendering="crispEdges"/><rect x="904" y="7" width="5" height="1" fill="#000" shape-rendering="crispEdges"/><rect x="905" y="8" width="3" height="1" fill="#000" shape-rendering="crispEdges"/><rect x="906" y="9" width="1" height="1" fill="#000" shape-rendering="crispEdges"/><circle cx="544.2" cy="7.7" r="6.7" fill="#fff" stroke="url(#clk)" stroke-width="2.7"/><path d="M544 4V8.2H547" stroke="#303030" stroke-width="1.2" fill="none"/><g fill="#909090"><circle cx="544.2" cy="3.2" r=".5"/><circle cx="548.7" cy="7.7" r=".5"/><circle cx="539.7" cy="7.7" r=".5"/><circle cx="541" cy="4.5" r=".4"/><circle cx="547.4" cy="4.5" r=".4"/><circle cx="541" cy="10.9" r=".4"/><circle cx="547.4" cy="10.9" r=".4"/></g><rect x="543" y="11.6" width="2.4" height="1" fill="#60a8f0" /><rect x="575.5" y="1.5" width="15" height="13" fill="#fff" stroke="#3a74c4" stroke-width="1"/><rect x="575" y="1" width="16" height="2.6" fill="#3a74c4" /><rect x="576" y="1.4" width="6" height="0.8" fill="#b0d0f8" /><rect x="576" y="8.2" width="14" height="1" fill="#5a90d8" /><path d="M577.4 7.4H578.8L580.4 6H581.6L583 5H584.4L585.8 6.2H587L588.6 5.2H589.4" stroke="#a01c00" stroke-width="1.2" fill="none"/><path d="M577.8 12.6H579.2L580.8 11.4L582.4 12.4H583.4L586 10.2L588.4 12.6H589" stroke="#18882a" stroke-width="1.2" fill="none"/><path d="M627.2 0.9V11.9L629.7 9.6L632.3 14.9L634.2 14L631.7 8.8L635 8.7Z" fill="#505050"/><rect x="659" y="1" width="1" height="6" fill="#505050" shape-rendering="crispEdges"/><rect x="659" y="10" width="1" height="6" fill="#505050" shape-rendering="crispEdges"/><rect x="652" y="8" width="6" height="1" fill="#505050" shape-rendering="crispEdges"/><rect x="661" y="8" width="6" height="1" fill="#505050" shape-rendering="crispEdges"/><rect x="659" y="8" width="1" height="1" fill="#909090" shape-rendering="crispEdges"/><rect x="693" y="2" width="1" height="13" fill="#505050" shape-rendering="crispEdges"/><rect x="716" y="8" width="12" height="1" fill="#505050" shape-rendering="crispEdges"/><path d="M743.8 14.8L756 2.7" stroke="#585858" stroke-width="1"/><g stroke="#484848" fill="none"><path d="M769.7 9.6L777.9 2" stroke-width=".8" opacity=".8"/><path d="M774.8 14.8L784.2 6.3" stroke-width=".8" opacity=".8"/><path d="M772.4 14.6V7.4L775.6 11.1V6L778.7 10.4V4.6L781.7 7V0" stroke-width="1.15" stroke-linejoin="miter"/><path d="M770.6 13.4L772.4 14.6M781.7 7L783.4 6.2" stroke-width=".9"/></g><rect x="781" y="12.1" width="1.3" height="4.9" fill="#505050" /><rect x="781" y="12.1" width="4" height="1.2" fill="#505050" /><rect x="781" y="14" width="3.4" height="1.1" fill="#505050" /><rect x="781" y="15.8" width="4" height="1.2" fill="#505050" /><rect x="799" y="1" width="1" height="1" fill="#505050" shape-rendering="crispEdges"/><rect x="801" y="1" width="1" height="1" fill="#505050" shape-rendering="crispEdges"/><rect x="803" y="1" width="1" height="1" fill="#505050" shape-rendering="crispEdges"/><rect x="805" y="1" width="1" height="1" fill="#505050" shape-rendering="crispEdges"/><rect x="807" y="1" width="1" height="1" fill="#505050" shape-rendering="crispEdges"/><rect x="809" y="1" width="1" height="1" fill="#505050" shape-rendering="crispEdges"/><rect x="811" y="1" width="1" height="1" fill="#505050" shape-rendering="crispEdges"/><rect x="799" y="4" width="1" height="1" fill="#505050" shape-rendering="crispEdges"/><rect x="801" y="4" width="1" height="1" fill="#505050" shape-rendering="crispEdges"/><rect x="803" y="4" width="1" height="1" fill="#505050" shape-rendering="crispEdges"/><rect x="805" y="4" width="1" height="1" fill="#505050" shape-rendering="crispEdges"/><rect x="807" y="4" width="1" height="1" fill="#505050" shape-rendering="crispEdges"/><rect x="809" y="4" width="1" height="1" fill="#505050" shape-rendering="crispEdges"/><rect x="811" y="4" width="1" height="1" fill="#505050" shape-rendering="crispEdges"/><rect x="799" y="8" width="1" height="1" fill="#505050" shape-rendering="crispEdges"/><rect x="801" y="8" width="1" height="1" fill="#505050" shape-rendering="crispEdges"/><rect x="803" y="8" width="1" height="1" fill="#505050" shape-rendering="crispEdges"/><rect x="805" y="8" width="1" height="1" fill="#505050" shape-rendering="crispEdges"/><rect x="807" y="8" width="1" height="1" fill="#505050" shape-rendering="crispEdges"/><rect x="809" y="8" width="1" height="1" fill="#505050" shape-rendering="crispEdges"/><rect x="811" y="8" width="1" height="1" fill="#505050" shape-rendering="crispEdges"/><rect x="799" y="12" width="1" height="1" fill="#505050" shape-rendering="crispEdges"/><rect x="801" y="12" width="1" height="1" fill="#505050" shape-rendering="crispEdges"/><rect x="803" y="12" width="1" height="1" fill="#505050" shape-rendering="crispEdges"/><rect x="805" y="12" width="1" height="1" fill="#505050" shape-rendering="crispEdges"/><rect x="807" y="12" width="1" height="1" fill="#505050" shape-rendering="crispEdges"/><rect x="809" y="12" width="1.3" height="5" fill="#505050" /><rect x="809" y="12" width="4" height="1.2" fill="#505050" /><rect x="809" y="14" width="3.2" height="1.1" fill="#505050" /><path d="M830 12.8L833 3.8H834.6L837.4 12.8H835.9L835.1 10.2H832.3L831.5 12.8ZM832.7 8.9H834.7L833.7 5.5Z" fill="#505050"/><rect x="857" y="2" width="1" height="1" fill="#505050" shape-rendering="crispEdges"/><rect x="857" y="14" width="1" height="1" fill="#505050" shape-rendering="crispEdges"/><rect x="859" y="2" width="1" height="1" fill="#505050" shape-rendering="crispEdges"/><rect x="859" y="14" width="1" height="1" fill="#505050" shape-rendering="crispEdges"/><rect x="861" y="2" width="1" height="1" fill="#505050" shape-rendering="crispEdges"/><rect x="861" y="14" width="1" height="1" fill="#505050" shape-rendering="crispEdges"/><rect x="863" y="2" width="1" height="1" fill="#505050" shape-rendering="crispEdges"/><rect x="863" y="14" width="1" height="1" fill="#505050" shape-rendering="crispEdges"/><rect x="865" y="2" width="1" height="1" fill="#505050" shape-rendering="crispEdges"/><rect x="865" y="14" width="1" height="1" fill="#505050" shape-rendering="crispEdges"/><rect x="867" y="2" width="1" height="1" fill="#505050" shape-rendering="crispEdges"/><rect x="867" y="14" width="1" height="1" fill="#505050" shape-rendering="crispEdges"/><rect x="856" y="4" width="1" height="1" fill="#505050" shape-rendering="crispEdges"/><rect x="868" y="4" width="1" height="1" fill="#505050" shape-rendering="crispEdges"/><rect x="856" y="6" width="1" height="1" fill="#505050" shape-rendering="crispEdges"/><rect x="868" y="6" width="1" height="1" fill="#505050" shape-rendering="crispEdges"/><rect x="856" y="8" width="1" height="1" fill="#505050" shape-rendering="crispEdges"/><rect x="868" y="8" width="1" height="1" fill="#505050" shape-rendering="crispEdges"/><rect x="856" y="10" width="1" height="1" fill="#505050" shape-rendering="crispEdges"/><rect x="868" y="10" width="1" height="1" fill="#505050" shape-rendering="crispEdges"/><rect x="856" y="12" width="1" height="1" fill="#505050" shape-rendering="crispEdges"/><rect x="868" y="12" width="1" height="1" fill="#505050" shape-rendering="crispEdges"/><rect x="855" y="1" width="2" height="1" fill="#505050" shape-rendering="crispEdges"/><rect x="858.2" y="5" width="7.8" height="1.3" fill="#505050" /><rect x="861.3" y="5" width="1.6" height="7.8" fill="#505050" /><path d="M886.4 1.9L890.1 5.8H887.7V7H885.3V5.8H882.9Z" fill="#505050"/><path d="M893.5 15.2L897 11.3H894.7V10.1H892.3V11.3H890Z" fill="#505050"/><path d="M885 9.4L887.3 11.7L891.9 6.2" stroke="#505050" stroke-width="1.3" fill="none"/><g font-family="Liberation Sans, sans-serif" font-size="10.2px" fill="#2a2a2a" text-rendering="geometricPrecision" opacity="0.99"><text x="930.4" y="12" textLength="13.0" lengthAdjust="spacingAndGlyphs">M1</text><text x="958.3000000000001" y="12" textLength="13.2" lengthAdjust="spacingAndGlyphs">M5</text><text x="984.4" y="12" textLength="18.1" lengthAdjust="spacingAndGlyphs">M15</text><text x="1012.1" y="12" textLength="18.3" lengthAdjust="spacingAndGlyphs">M30</text><text x="1043.3" y="12" textLength="12.2" lengthAdjust="spacingAndGlyphs">H1</text><text x="1070.3" y="12" textLength="13.0" lengthAdjust="spacingAndGlyphs">H4</text><text x="1099.1999999999998" y="12" textLength="12.2" lengthAdjust="spacingAndGlyphs">D1</text><text x="1126.6" y="12" textLength="14.6" lengthAdjust="spacingAndGlyphs">W1</text><text x="1153.3999999999999" y="12" textLength="15.1" lengthAdjust="spacingAndGlyphs">MN</text></g><path d="M1643.4 8.8L1639.4 12.6" stroke="#2454c8" stroke-width="2.6" stroke-linecap="round"/><path d="M1640.4 10.6L1641.6 11.8M1641.6 9.6L1642.8 10.8" stroke="#88a8f0" stroke-width=".5"/><circle cx="1646.6" cy="5.3" r="3.9" fill="#f2f2fc" stroke="#2a5cd4" stroke-width="1.5"/><path d="M1668.6 5.2C1672.4 5.2 1674.6 7.2 1674.6 9.8C1674.6 12.6 1672 14.2 1668.4 14.2C1668 14.2 1667.6 14.2 1667.2 14.1L1666.4 16.6L1665.6 13.8C1663.8 13 1662.6 11.6 1662.6 9.8C1662.6 7.2 1665 5.2 1668.6 5.2Z" fill="#e2e2ee" stroke="#a8a8a8" stroke-width=".9"/><circle cx="1677.4" cy="5.5" r="8.3" fill="url(#badge)"/><text x="1673.2" y="10.2" font-family="Liberation Sans, sans-serif" font-weight="bold" font-size="12.6px" fill="#fff" textLength="6.6" lengthAdjust="spacingAndGlyphs" text-rendering="geometricPrecision">1</text><rect x="1673.9" y="9.2" width="5.4" height="1.1" fill="#fff" /></svg>
</body></html>
